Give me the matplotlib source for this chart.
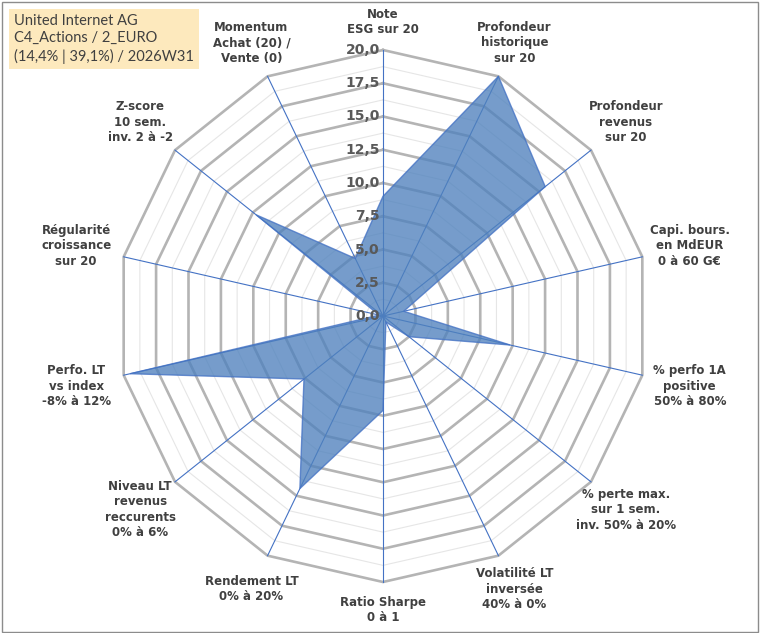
import numpy as np
import matplotlib.pyplot as plt
from matplotlib.patches import Polygon, Rectangle

categories = [
    "Note\nESG sur 20",
    "Profondeur\nhistorique\nsur 20",
    "Profondeur\nrevenus\nsur 20",
    "Capi. bours.\nen MdEUR\n0 à 60 G€",
    "% perfo 1A\npositive\n50% à 80%",
    "% perte max.\nsur 1 sem.\ninv. 50% à 20%",
    "Volatilité LT\ninversée\n40% à 0%",
    "Ratio Sharpe\n0 à 1",
    "Rendement LT\n0% à 20%",
    "Niveau LT\nrevenus\nreccurents\n0% à 6%",
    "Perfo. LT\nvs index\n-8% à 12%",
    "Régularité\ncroissance\nsur 20",
    "Z-score\n10 sem.\ninv. 2 à -2",
    "Momentum\nAchat (20) /\nVente (0)",
]
values = [9.0, 20.0, 15.6, 1.6, 9.8, 2.5, 0.5, 7.1, 14.4, 7.6, 19.5, 0.3, 12.2, 4.8]
ticks = [0, 2.5, 5, 7.5, 10, 12.5, 15, 17.5, 20]
title_lines = ["United Internet AG", "C4_Actions / 2_EURO", "(14,4% | 39,1%) / 2026W31"]

n = len(categories)
ang = np.pi / 2 - np.arange(n) * 2 * np.pi / n
cx, cy = np.cos(ang), np.sin(ang)

fig = plt.figure(figsize=(7.6, 6.33), dpi=100)
ax = fig.add_axes([0, 0, 1, 1])
s = 13.3
ax.set_xlim(-383 / s, (760 - 383) / s)
ax.set_ylim(-(633 - 316) / s, 316 / s)
ax.axis("off")

# minor and major polygon grid
for r in np.arange(1.25, 20.01, 1.25):
    major = abs(r / 2.5 - round(r / 2.5)) < 1e-6
    xs = np.append(cx * r, cx[0] * r)
    ys = np.append(cy * r, cy[0] * r)
    ax.plot(xs, ys, color="#b4b4b4" if major else "#e6e6e6",
            lw=1.9 if major else 0.8, zorder=1)

# spokes
for i in range(n):
    ax.plot([0, cx[i] * 20], [0, cy[i] * 20], color="#4472c4", lw=0.8, zorder=2)

v = np.array(values)
ax.add_patch(Polygon(np.column_stack([cx * v, cy * v]), closed=True,
                     facecolor="#4f81bd", alpha=0.78, edgecolor="#4472c4",
                     lw=1, zorder=3))

for t in ticks:
    ax.text(-0.25, t, f"{t:.1f}".replace(".", ","), ha="right", va="center",
            fontsize=10, fontweight="bold", color="#595959", zorder=4)

for i, lab in enumerate(categories):
    r = 22.1 + 1.6 * abs(cx[i])
    ax.text(cx[i] * r, cy[i] * r, lab, ha="center", va="center",
            multialignment="center", fontsize=8.5, fontweight="bold",
            color="#404040", linespacing=1.25, zorder=4)

fig.text(0.018, 0.978, "\n".join(title_lines), ha="left", va="top",
         fontsize=10.5, family="Lato", color="#404040", linespacing=1.3,
         bbox=dict(boxstyle="square,pad=0.35", facecolor="#fde9bd",
                   edgecolor="none"))

fig.add_artist(Rectangle((0.002, 0.002), 0.995, 0.995, transform=fig.transFigure,
                         fill=False, edgecolor="#8c8c8c", lw=1))

fig.savefig("out.png", dpi=100)
